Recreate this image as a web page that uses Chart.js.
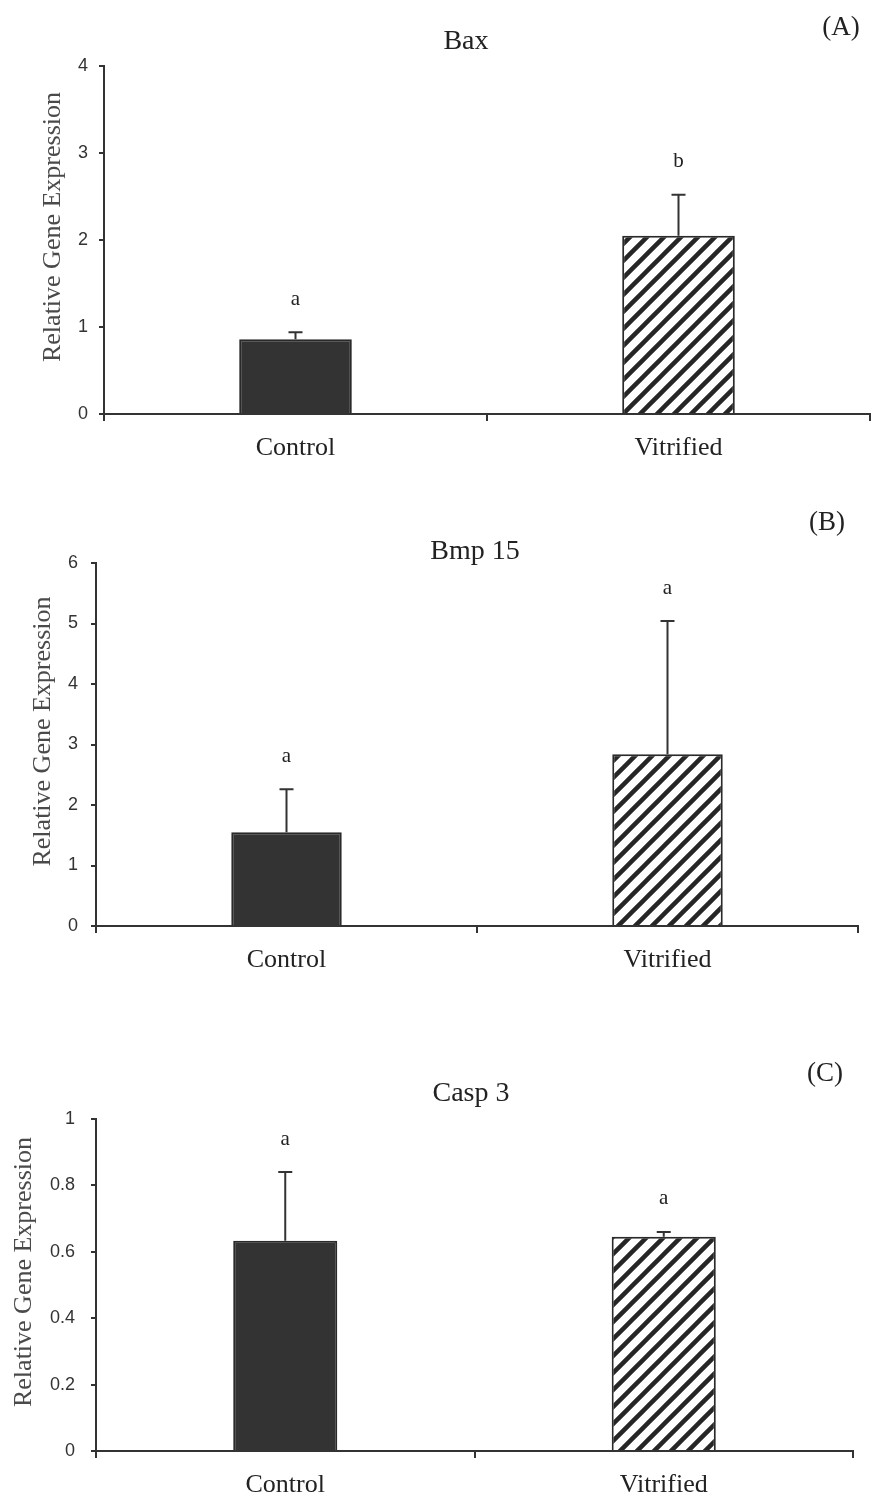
<!DOCTYPE html>
<html>
<head>
<meta charset="utf-8">
<script src="https://cdn.jsdelivr.net/npm/chart.js@4.4.1/dist/chart.umd.min.js"></script>
<style>
  body { margin: 0; background: #fff; width: 872px; height: 1502px; position: relative; overflow: hidden; }
  .panel { position: absolute; left: 0; width: 872px; }
</style>
</head>
<body>
<div class="panel" style="top:0"><canvas id="bax" width="872" height="490"></canvas></div>
<div class="panel" style="top:490px"><canvas id="bmp" width="872" height="510"></canvas></div>
<div class="panel" style="top:1000px"><canvas id="casp" width="872" height="502"></canvas></div>
<script>
// groups on the x axis
const groups = ['Control', 'Vitrified'];

// (A) Bax
const baxMean = [0.86, 2.05];
const baxErr = [0.08, 0.47];
const baxLetters = ['a', 'b'];
const baxTicks = [0, 1, 2, 3, 4];

// (B) Bmp 15
const bmpMean = [1.55, 2.84];
const bmpErr = [0.71, 2.2];
const bmpLetters = ['a', 'a'];
const bmpTicks = [0, 1, 2, 3, 4, 5, 6];

// (C) Casp 3
const caspMean = [0.633, 0.645];
const caspErr = [0.207, 0.015];
const caspLetters = ['a', 'a'];
const caspTicks = [0, 0.2, 0.4, 0.6, 0.8, 1];

const SERIF = '"Liberation Serif", "Times New Roman", serif';
const SANS = '"Liberation Sans", Arial, sans-serif';

function hatch() {
  const n = 17;
  const c = document.createElement('canvas');
  c.width = n; c.height = n;
  const g = c.getContext('2d');
  g.fillStyle = '#fff';
  g.fillRect(0, 0, n, n);
  g.strokeStyle = '#262626';
  g.lineWidth = 4.5;
  g.beginPath();
  g.moveTo(-n / 2, n / 2); g.lineTo(n / 2, -n / 2);
  g.moveTo(0, n); g.lineTo(n, 0);
  g.moveTo(n / 2, n * 1.5); g.lineTo(n * 1.5, n / 2);
  g.stroke();
  return g.createPattern(c, 'repeat');
}

// error bars + significance letters
const errorBars = {
  id: 'errorBars',
  afterDatasetsDraw(chart, args, opts) {
    const { ctx } = chart;
    const y = chart.scales.y;
    const values = chart.data.datasets[0].data;
    ctx.save();
    chart.getDatasetMeta(0).data.forEach((bar, i) => {
      const top = y.getPixelForValue(values[i] + opts.err[i]);
      ctx.strokeStyle = '#333';
      ctx.lineWidth = 2;
      ctx.beginPath();
      ctx.moveTo(bar.x, bar.y);
      ctx.lineTo(bar.x, top);
      ctx.moveTo(bar.x - 7, top);
      ctx.lineTo(bar.x + 7, top);
      ctx.stroke();
      ctx.fillStyle = '#222';
      ctx.font = '21px ' + SERIF;
      ctx.textAlign = 'center';
      ctx.textBaseline = 'middle';
      ctx.fillText(opts.letters[i], bar.x, top - 33);
    });
    ctx.restore();
  }
};

// panel title and (A)/(B)/(C) tag
const panelText = {
  id: 'panelText',
  afterDraw(chart, args, opts) {
    const { ctx } = chart;
    ctx.save();
    ctx.fillStyle = '#222';
    ctx.textAlign = 'center';
    ctx.textBaseline = 'alphabetic';
    ctx.font = '28px ' + SERIF;
    ctx.fillText(opts.title, opts.titleX, opts.titleY);
    ctx.font = '27px ' + SERIF;
    ctx.fillText(opts.tag, opts.tagX, opts.tagY);
    ctx.restore();
  }
};

function makePanel(id, p) {
  new Chart(document.getElementById(id), {
    type: 'bar',
    data: {
      labels: groups,
      datasets: [{
        data: p.mean,
        backgroundColor: ['#333333', hatch()],
        borderColor: '#2a2a2a',
        borderWidth: 2,
        barPercentage: 1,
        categoryPercentage: p.barFrac
      }]
    },
    options: {
      responsive: false,
      animation: false,
      devicePixelRatio: 1,
      layout: { padding: { top: p.top, right: p.right, left: 0, bottom: 0 } },
      plugins: {
        legend: { display: false },
        tooltip: { enabled: false },
        errorBars: { err: p.err, letters: p.letters },
        panelText: p.text
      },
      scales: {
        x: {
          border: { color: '#333', width: 2 },
          grid: { display: true, drawOnChartArea: false, tickLength: 7, color: '#333', lineWidth: 2 },
          ticks: { color: '#222', font: { family: SERIF, size: 26 }, padding: 12 },
          afterFit: (s) => { s.height = p.xHeight; }
        },
        y: {
          min: p.ticks[0],
          max: p.ticks[p.ticks.length - 1],
          afterBuildTicks: (s) => { s.ticks = p.ticks.map(v => ({ value: v })); },
          border: { color: '#333', width: 2 },
          grid: { display: true, drawOnChartArea: false, tickLength: 5, color: '#333', lineWidth: 2 },
          ticks: {
            color: '#333',
            font: { family: SANS, size: 18 },
            padding: p.tickPad,
            callback: (v) => String(+v.toFixed(1))
          },
          title: {
            display: true,
            // leading em space nudges the rotated label upward like the original
            text: '\u2003Relative Gene Expression',
            color: '#4a4a4a',
            font: { family: SERIF, size: 26 },
            padding: { top: p.yTitlePad, bottom: 0 }
          },
          afterFit: (s) => { s.width = p.left; }
        }
      }
    },
    plugins: [errorBars, panelText]
  });
}

makePanel('bax', {
  mean: baxMean, err: baxErr, letters: baxLetters, ticks: baxTicks,
  top: 66, right: 2, left: 104, xHeight: 76, barFrac: 0.294, tickPad: 11, yTitlePad: 38,
  text: { title: 'Bax', titleX: 466, titleY: 49, tag: '(A)', tagX: 841, tagY: 35 }
});

makePanel('bmp', {
  mean: bmpMean, err: bmpErr, letters: bmpLetters, ticks: bmpTicks,
  top: 73, right: 14, left: 96, xHeight: 74, barFrac: 0.29, tickPad: 13, yTitlePad: 28,
  text: { title: 'Bmp 15', titleX: 475, titleY: 69, tag: '(B)', tagX: 827, tagY: 40 }
});

makePanel('casp', {
  mean: caspMean, err: caspErr, letters: caspLetters, ticks: caspTicks,
  top: 119, right: 19, left: 96, xHeight: 51, barFrac: 0.275, tickPad: 16, yTitlePad: 9,
  text: { title: 'Casp 3', titleX: 471, titleY: 101, tag: '(C)', tagX: 825, tagY: 81 }
});
</script>
</body>
</html>
